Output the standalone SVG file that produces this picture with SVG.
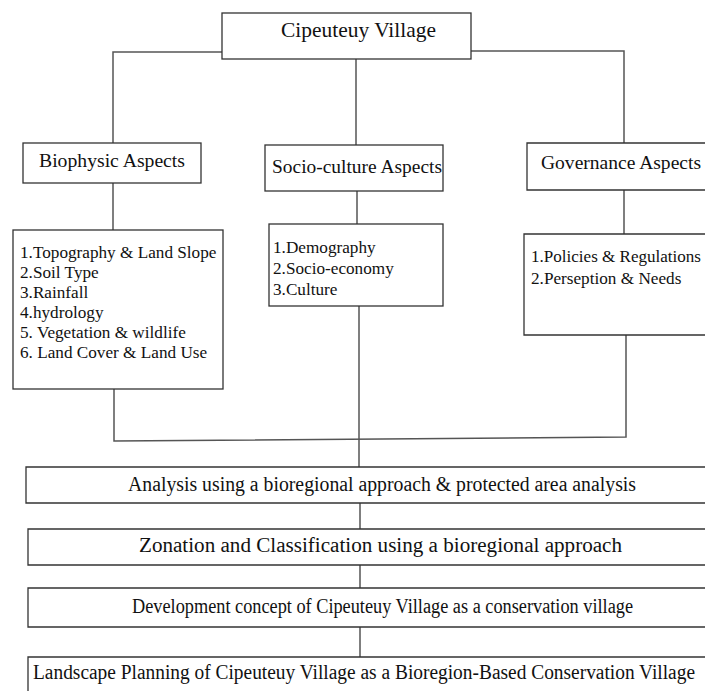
<svg xmlns="http://www.w3.org/2000/svg" width="705" height="691" viewBox="0 0 705 691" font-family="'Liberation Serif', 'Times New Roman', serif">
<style>
.box{fill:#fff;stroke:#333;stroke-width:1.3}
.ln{fill:none;stroke:#555;stroke-width:1.5}
text{font-family:'Liberation Serif','Times New Roman',serif;fill:#111}
.t{font-size:21px}
.h{font-size:19px}
.l{font-size:17.2px}
.b{font-size:20px}
</style>
<rect width="705" height="691" fill="#fff"/>
<g id="connectors">
<polyline class="ln" points="222,52 113,52 113,143"/>
<polyline class="ln" points="471,51 624,51 624,143"/>
<line class="ln" x1="356" y1="59" x2="356" y2="145"/>
<line class="ln" x1="113" y1="183" x2="113" y2="230"/>
<line class="ln" x1="357" y1="191" x2="357" y2="224"/>
<line class="ln" x1="624" y1="190" x2="624" y2="234"/>
<polyline class="ln" points="114,389 114,441 626,437 626,335"/>
<line class="ln" x1="359" y1="306" x2="359" y2="467"/>
<line class="ln" x1="360" y1="503" x2="360" y2="529"/>
<line class="ln" x1="360" y1="565" x2="360" y2="588"/>
<line class="ln" x1="360" y1="627" x2="360" y2="657"/>
</g>
<g id="village">
<rect class="box" x="222" y="13" width="249" height="46"/>
<text class="t" x="281" y="37" textLength="155" lengthAdjust="spacingAndGlyphs">Cipeuteuy Village</text>
</g>
<g id="biophysic">
<rect class="box" x="23" y="143" width="178" height="40"/>
<text class="h" x="39" y="167" textLength="146" lengthAdjust="spacingAndGlyphs">Biophysic Aspects</text>
</g>
<g id="socio">
<rect class="box" x="265" y="145" width="178" height="46"/>
<text class="h" x="272" y="173" textLength="170" lengthAdjust="spacingAndGlyphs">Socio-culture Aspects</text>
</g>
<g id="governance">
<path class="box" d="M705,143 H527 V190 H705"/>
<text class="h" x="541" y="169" textLength="160" lengthAdjust="spacingAndGlyphs">Governance Aspects</text>
</g>
<g id="biophysic-list">
<rect class="box" x="13" y="230" width="210" height="159"/>
<text class="l" x="20" y="258">1.Topography &amp; Land Slope</text>
<text class="l" x="20" y="278">2.Soil Type</text>
<text class="l" x="20" y="298">3.Rainfall</text>
<text class="l" x="20" y="318">4.hydrology</text>
<text class="l" x="20" y="338">5. Vegetation &amp; wildlife</text>
<text class="l" x="20" y="358">6. Land Cover &amp; Land Use</text>
</g>
<g id="socio-list">
<rect class="box" x="269" y="224" width="174" height="82"/>
<text class="l" x="273" y="253">1.Demography</text>
<text class="l" x="273" y="274">2.Socio-economy</text>
<text class="l" x="273" y="295">3.Culture</text>
</g>
<g id="governance-list">
<path class="box" d="M705,234 H524 V335 H705"/>
<text class="l" x="531" y="262" textLength="170" lengthAdjust="spacingAndGlyphs">1.Policies &amp; Regulations</text>
<text class="l" x="531" y="284">2.Perseption &amp; Needs</text>
</g>
<g id="analysis">
<path class="box" d="M705,467 H26 V503 H705"/>
<text class="b" x="128" y="491" textLength="508" lengthAdjust="spacingAndGlyphs">Analysis using a bioregional approach &amp; protected area analysis</text>
</g>
<g id="zonation">
<path class="box" d="M705,529 H28 V565 H705"/>
<text class="b" x="139" y="552" textLength="483" lengthAdjust="spacingAndGlyphs">Zonation and Classification using a bioregional approach</text>
</g>
<g id="development">
<path class="box" d="M705,588 H28 V627 H705"/>
<text class="b" x="132" y="613" textLength="501" lengthAdjust="spacingAndGlyphs">Development concept of Cipeuteuy Village as a conservation village</text>
</g>
<g id="landscape">
<path class="box" d="M705,657 H28 V691"/>
<text class="b" x="33" y="679" textLength="662" lengthAdjust="spacingAndGlyphs">Landscape Planning of Cipeuteuy Village as a Bioregion-Based Conservation Village</text>
</g>
</svg>
